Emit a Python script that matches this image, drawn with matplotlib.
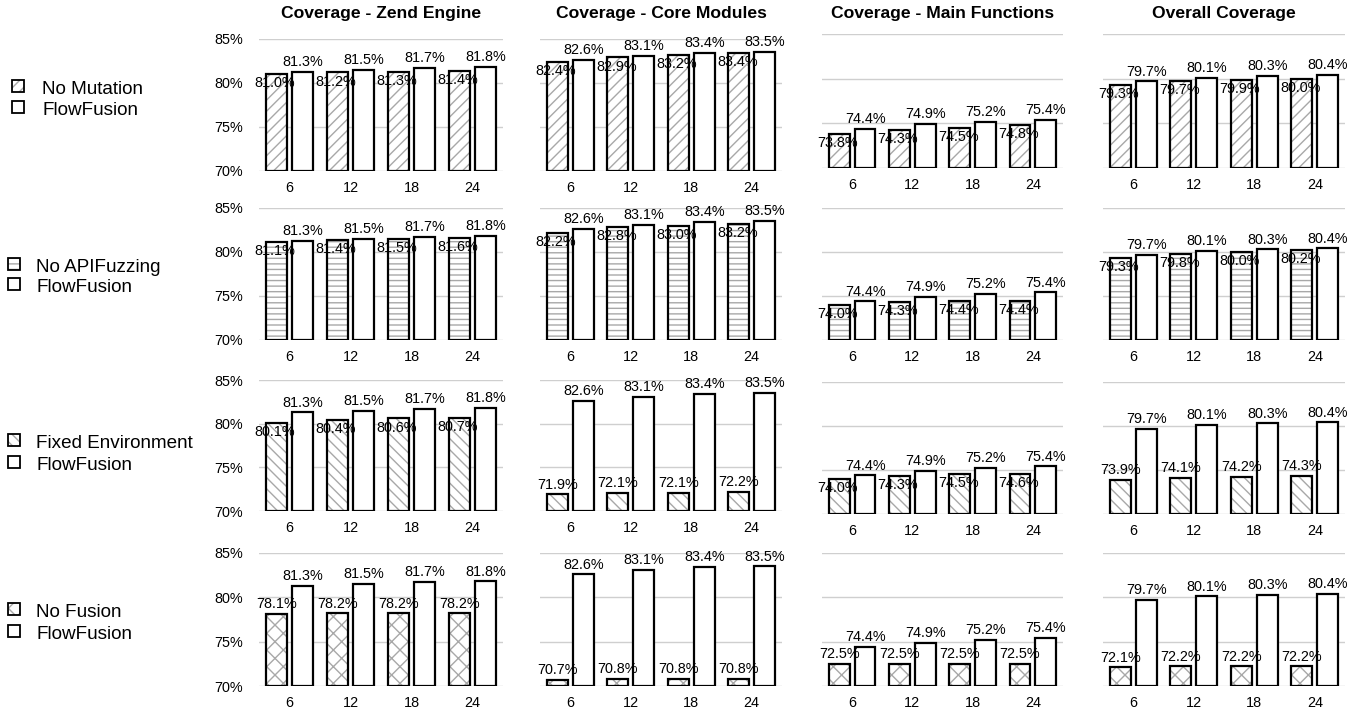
import matplotlib
matplotlib.use("Agg")
import matplotlib.pyplot as plt
from matplotlib.patches import Rectangle
import numpy as np

plt.rcParams['font.family'] = ['Liberation Sans', 'DejaVu Sans']
plt.rcParams['hatch.linewidth'] = 1.0

# ---------------- data ----------------
categories = ['6', '12', '18', '24']
panel_titles = ['Coverage - Zend Engine', 'Coverage - Core Modules',
                'Coverage - Main Functions', 'Overall Coverage']
y_ticks = [70, 75, 80, 85]

flowfusion_zend = [81.3, 81.5, 81.7, 81.8]
flowfusion_core = [82.6, 83.1, 83.4, 83.5]
flowfusion_main = [74.4, 74.9, 75.2, 75.4]
flowfusion_overall = [79.7, 80.1, 80.3, 80.4]

no_mutation_zend = [81.0, 81.2, 81.3, 81.4]
no_mutation_core = [82.4, 82.9, 83.2, 83.4]
no_mutation_main = [73.8, 74.3, 74.5, 74.8]
no_mutation_overall = [79.3, 79.7, 79.9, 80.0]

no_apifuzzing_zend = [81.1, 81.4, 81.5, 81.6]
no_apifuzzing_core = [82.2, 82.8, 83.0, 83.2]
no_apifuzzing_main = [74.0, 74.3, 74.4, 74.4]
no_apifuzzing_overall = [79.3, 79.8, 80.0, 80.2]

fixed_env_zend = [80.1, 80.4, 80.6, 80.7]
fixed_env_core = [71.9, 72.1, 72.1, 72.2]
fixed_env_main = [74.0, 74.3, 74.5, 74.6]
fixed_env_overall = [73.9, 74.1, 74.2, 74.3]

no_fusion_zend = [78.1, 78.2, 78.2, 78.2]
no_fusion_core = [70.7, 70.8, 70.8, 70.8]
no_fusion_main = [72.5, 72.5, 72.5, 72.5]
no_fusion_overall = [72.1, 72.2, 72.2, 72.2]

variant_names = ['No Mutation', 'No APIFuzzing', 'Fixed Environment', 'No Fusion']
baseline_name = 'FlowFusion'

flowfusion = [flowfusion_zend, flowfusion_core, flowfusion_main, flowfusion_overall]
variants = [
    [no_mutation_zend, no_mutation_core, no_mutation_main, no_mutation_overall],
    [no_apifuzzing_zend, no_apifuzzing_core, no_apifuzzing_main, no_apifuzzing_overall],
    [fixed_env_zend, fixed_env_core, fixed_env_main, fixed_env_overall],
    [no_fusion_zend, no_fusion_core, no_fusion_main, no_fusion_overall],
]

# ---------------- style / layout ----------------
hatches = ['///', '---', '\\\\\\', 'xx']
HATCH_GRAY = '#a8a8a8'
GRID = '#cfcfcf'
W, H = 1364, 712
fig = plt.figure(figsize=(W / 100, H / 100), dpi=100)

col_x = [(259, 503), (540, 782), (822, 1063), (1103, 1345)]
# (top, bottom) pixels per row, for columns 1-2 and 3-4
row_y = [((39, 171), (34, 168)),
         ((208, 340), (208, 340)),
         ((380, 511), (382, 514)),
         ((553, 686), (553, 686))]

legend_layout = [  # (patch_left, text_left, baseline1, baseline2)
    (12, 42, 94, 115),
    (8, 36, 272, 292),
    (8, 36, 448, 470),
    (8, 36, 617, 639),
]

FS = 10.4
bar_w = 0.345
off = 0.215
x = np.arange(len(categories))

for r in range(4):
    for c in range(4):
        x0, x1 = col_x[c]
        y0, y1 = row_y[r][0 if c < 2 else 1]
        ax = fig.add_axes([x0 / W, 1 - y1 / H, (x1 - x0) / W, (y1 - y0) / H])
        ax.set_axisbelow(True)
        base = 70
        v_var = np.array(variants[r][c])
        v_ff = np.array(flowfusion[c])
        # hatched variant bars
        ax.bar(x - off, v_var - base, bar_w, bottom=base, color='white',
               edgecolor=HATCH_GRAY, hatch=hatches[r], linewidth=0, zorder=2)
        ax.bar(x - off, v_var - base, bar_w, bottom=base, fill=False,
               edgecolor='black', linewidth=1.6, zorder=3)
        # FlowFusion bars
        ax.bar(x + off, v_ff - base, bar_w, bottom=base, color='white',
               edgecolor='black', linewidth=1.6, zorder=3)
        for i in range(len(categories)):
            ax.annotate(f'{v_ff[i]:.1f}%', (x[i] + off, v_ff[i]), xytext=(0, 2),
                        textcoords='offset points', ha='center', va='bottom',
                        fontsize=FS, zorder=5)
            if v_ff[i] - v_var[i] < 1.5:
                ax.annotate(f'{v_var[i]:.1f}%', (x[i] - off, v_var[i]),
                            xytext=(-1, -1.5), textcoords='offset points',
                            ha='center', va='top', fontsize=FS, zorder=5)
            else:
                ax.annotate(f'{v_var[i]:.1f}%', (x[i] - off, v_var[i]),
                            xytext=(0, 2), textcoords='offset points',
                            ha='center', va='bottom', fontsize=FS, zorder=5)
        ax.set_xlim(-0.5, len(categories) - 0.5)
        ax.set_ylim(70, 85)
        ax.set_yticks(y_ticks)
        ax.yaxis.grid(True, color=GRID, linewidth=1.0)
        ax.set_xticks(x)
        ax.set_xticklabels(categories, fontsize=FS)
        ax.tick_params(axis='x', length=0, pad=7)
        if c == 0:
            ax.set_yticklabels([f'{t}%' for t in y_ticks], fontsize=FS)
            ax.tick_params(axis='y', length=0, pad=11.5)
        else:
            ax.tick_params(axis='y', length=0, labelleft=False)
        for s in ax.spines.values():
            s.set_visible(False)
        if r == 0:
            fig.text((x0 + x1) / 2 / W, 1 - 18 / H, panel_titles[c],
                     ha='center', va='baseline', fontsize=12.6, fontweight='bold')

    # legend for this row
    pl, tl, b1, b2 = legend_layout[r]
    ps = 12
    for k, (lab, bl) in enumerate([(variant_names[r], b1), (baseline_name, b2)]):
        cy = bl - 8
        rect_xy = (pl / W, 1 - (cy + ps / 2) / H)
        if k == 0:
            fig.add_artist(Rectangle(rect_xy, ps / W, ps / H, transform=fig.transFigure,
                                     facecolor='white', edgecolor=HATCH_GRAY,
                                     hatch=hatches[r], linewidth=0))
        fig.add_artist(Rectangle(rect_xy, ps / W, ps / H, transform=fig.transFigure,
                                 fill=False, edgecolor='black', linewidth=1.3))
        fig.text(tl / W, 1 - bl / H, lab, ha='left', va='baseline', fontsize=13.6)

fig.savefig('out.png', dpi=100, facecolor='white')
